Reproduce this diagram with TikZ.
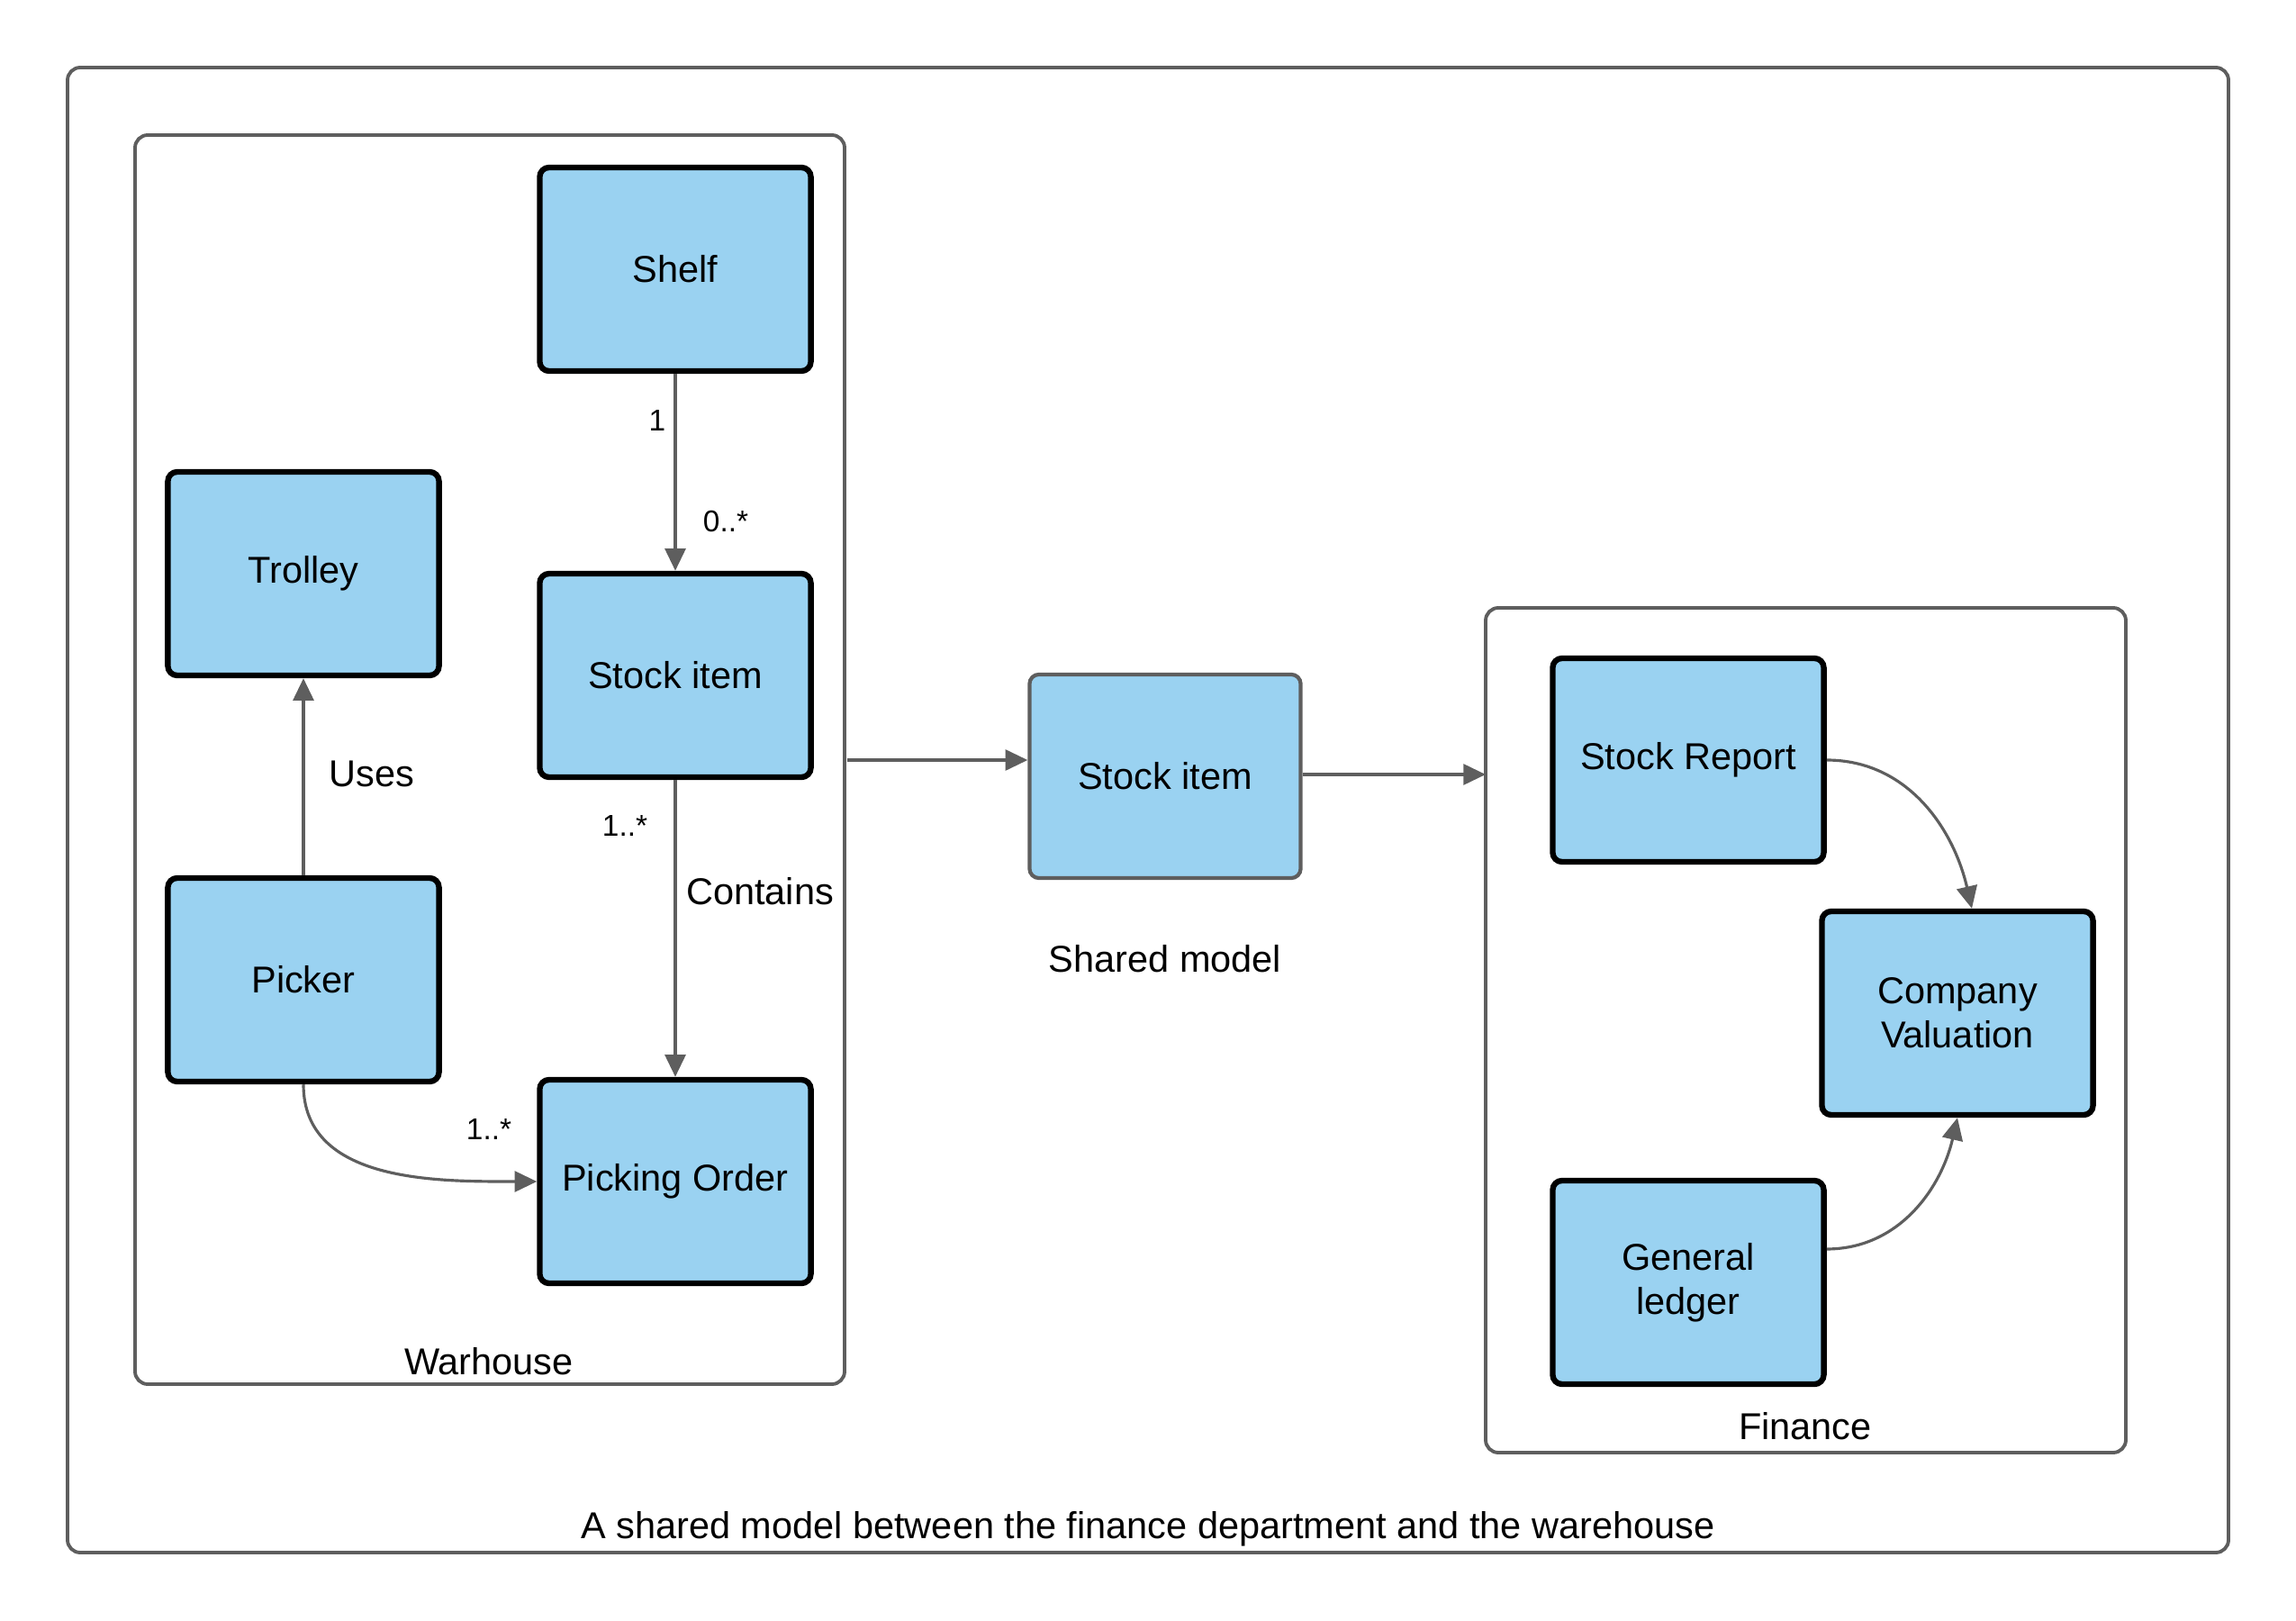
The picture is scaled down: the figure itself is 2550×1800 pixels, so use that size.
\documentclass[tikz,border=0pt]{standalone}
\usepackage{fontspec}
\setmainfont{Liberation Sans}
\usetikzlibrary{arrows.meta}
\definecolor{boxfill}{RGB}{154,210,241}
\definecolor{linegray}{RGB}{94,94,94}
\begin{document}
\begin{tikzpicture}[x=0.01cm,y=-0.01cm,
  entity/.style={draw=black,line width=1.8pt,fill=boxfill,rounded corners=3pt,
    minimum width=3.01cm,minimum height=2.26cm,align=center,font=\fontsize{11.8}{13.9}\selectfont,inner sep=0pt},
  shared/.style={entity,draw=linegray,line width=1.2pt},
  frame/.style={draw=linegray,line width=1.1pt,rounded corners=4pt},
  conn/.style={draw=linegray,line width=0.9pt,-{Triangle[length=7pt,width=6.5pt]}},
  lbl/.style={font=\fontsize{11.8}{13.9}\selectfont,inner sep=0pt},
  mult/.style={font=\fontsize{9.5}{11}\selectfont,inner sep=0pt}]
\useasboundingbox (0,0) rectangle (2550,1800);

% containers
\draw[frame] (75,75) rectangle (2475,1724);
\draw[frame] (150,150) rectangle (938,1537);
\draw[frame] (1650,675) rectangle (2361,1613);
\coordinate (whR) at (941,844);
\coordinate (finL) at (1650,860);

% warehouse entities
\node[entity] (shelf) at (750,299) {Shelf};
\node[entity] (trolley) at (337,637) {Trolley};
\node[entity] (stock) at (750,750) {Stock item};
\node[entity] (picker) at (337,1088) {Picker};
\node[entity] (order) at (750,1312) {Picking Order};

% shared model
\node[shared] (sstock) at (1294,862) {Stock item};

% finance entities
\node[entity] (report) at (1875,844) {Stock Report};
\node[entity] (valuation) at (2174,1125) {Company\\Valuation};
\node[entity] (ledger) at (1875,1424) {General\\ledger};

% connectors
\draw[conn] (shelf) -- (stock);
\draw[conn] (picker) -- (trolley);
\draw[conn] (stock) -- (order);
\draw[conn] (picker.south) to[out=-90,in=180] (order.west);
\draw[conn] (whR) -- (whR -| sstock.west);
\draw[conn] (sstock.east |- finL) -- (finL);
\draw[conn] (report.east) to[out=0,in=103] ([xshift=0.16cm]valuation.north);
\draw[conn] ([yshift=0.37cm]ledger.east) to[out=0,in=-103] (valuation.south);

% labels
\node[mult] (m1) at (730,467) {1};
\node[mult] (m2) at (806,579) {0..*};
\node[lbl] (uses) at (413,859) {Uses};
\node[mult] (m3) at (694,917) {1..*};
\node[lbl] (contains) at (844,990) {Contains};
\node[mult] (m4) at (543,1254) {1..*};
\node[lbl] (whlabel) at (543,1512) {Warhouse};
\node[lbl] (shlabel) at (1294,1065) {Shared model};
\node[lbl] (finlabel) at (2005,1584) {Finance};
\node[lbl] (caption) at (1275,1698) {A shared model between the finance department and the warehouse};
\end{tikzpicture}
\end{document}
